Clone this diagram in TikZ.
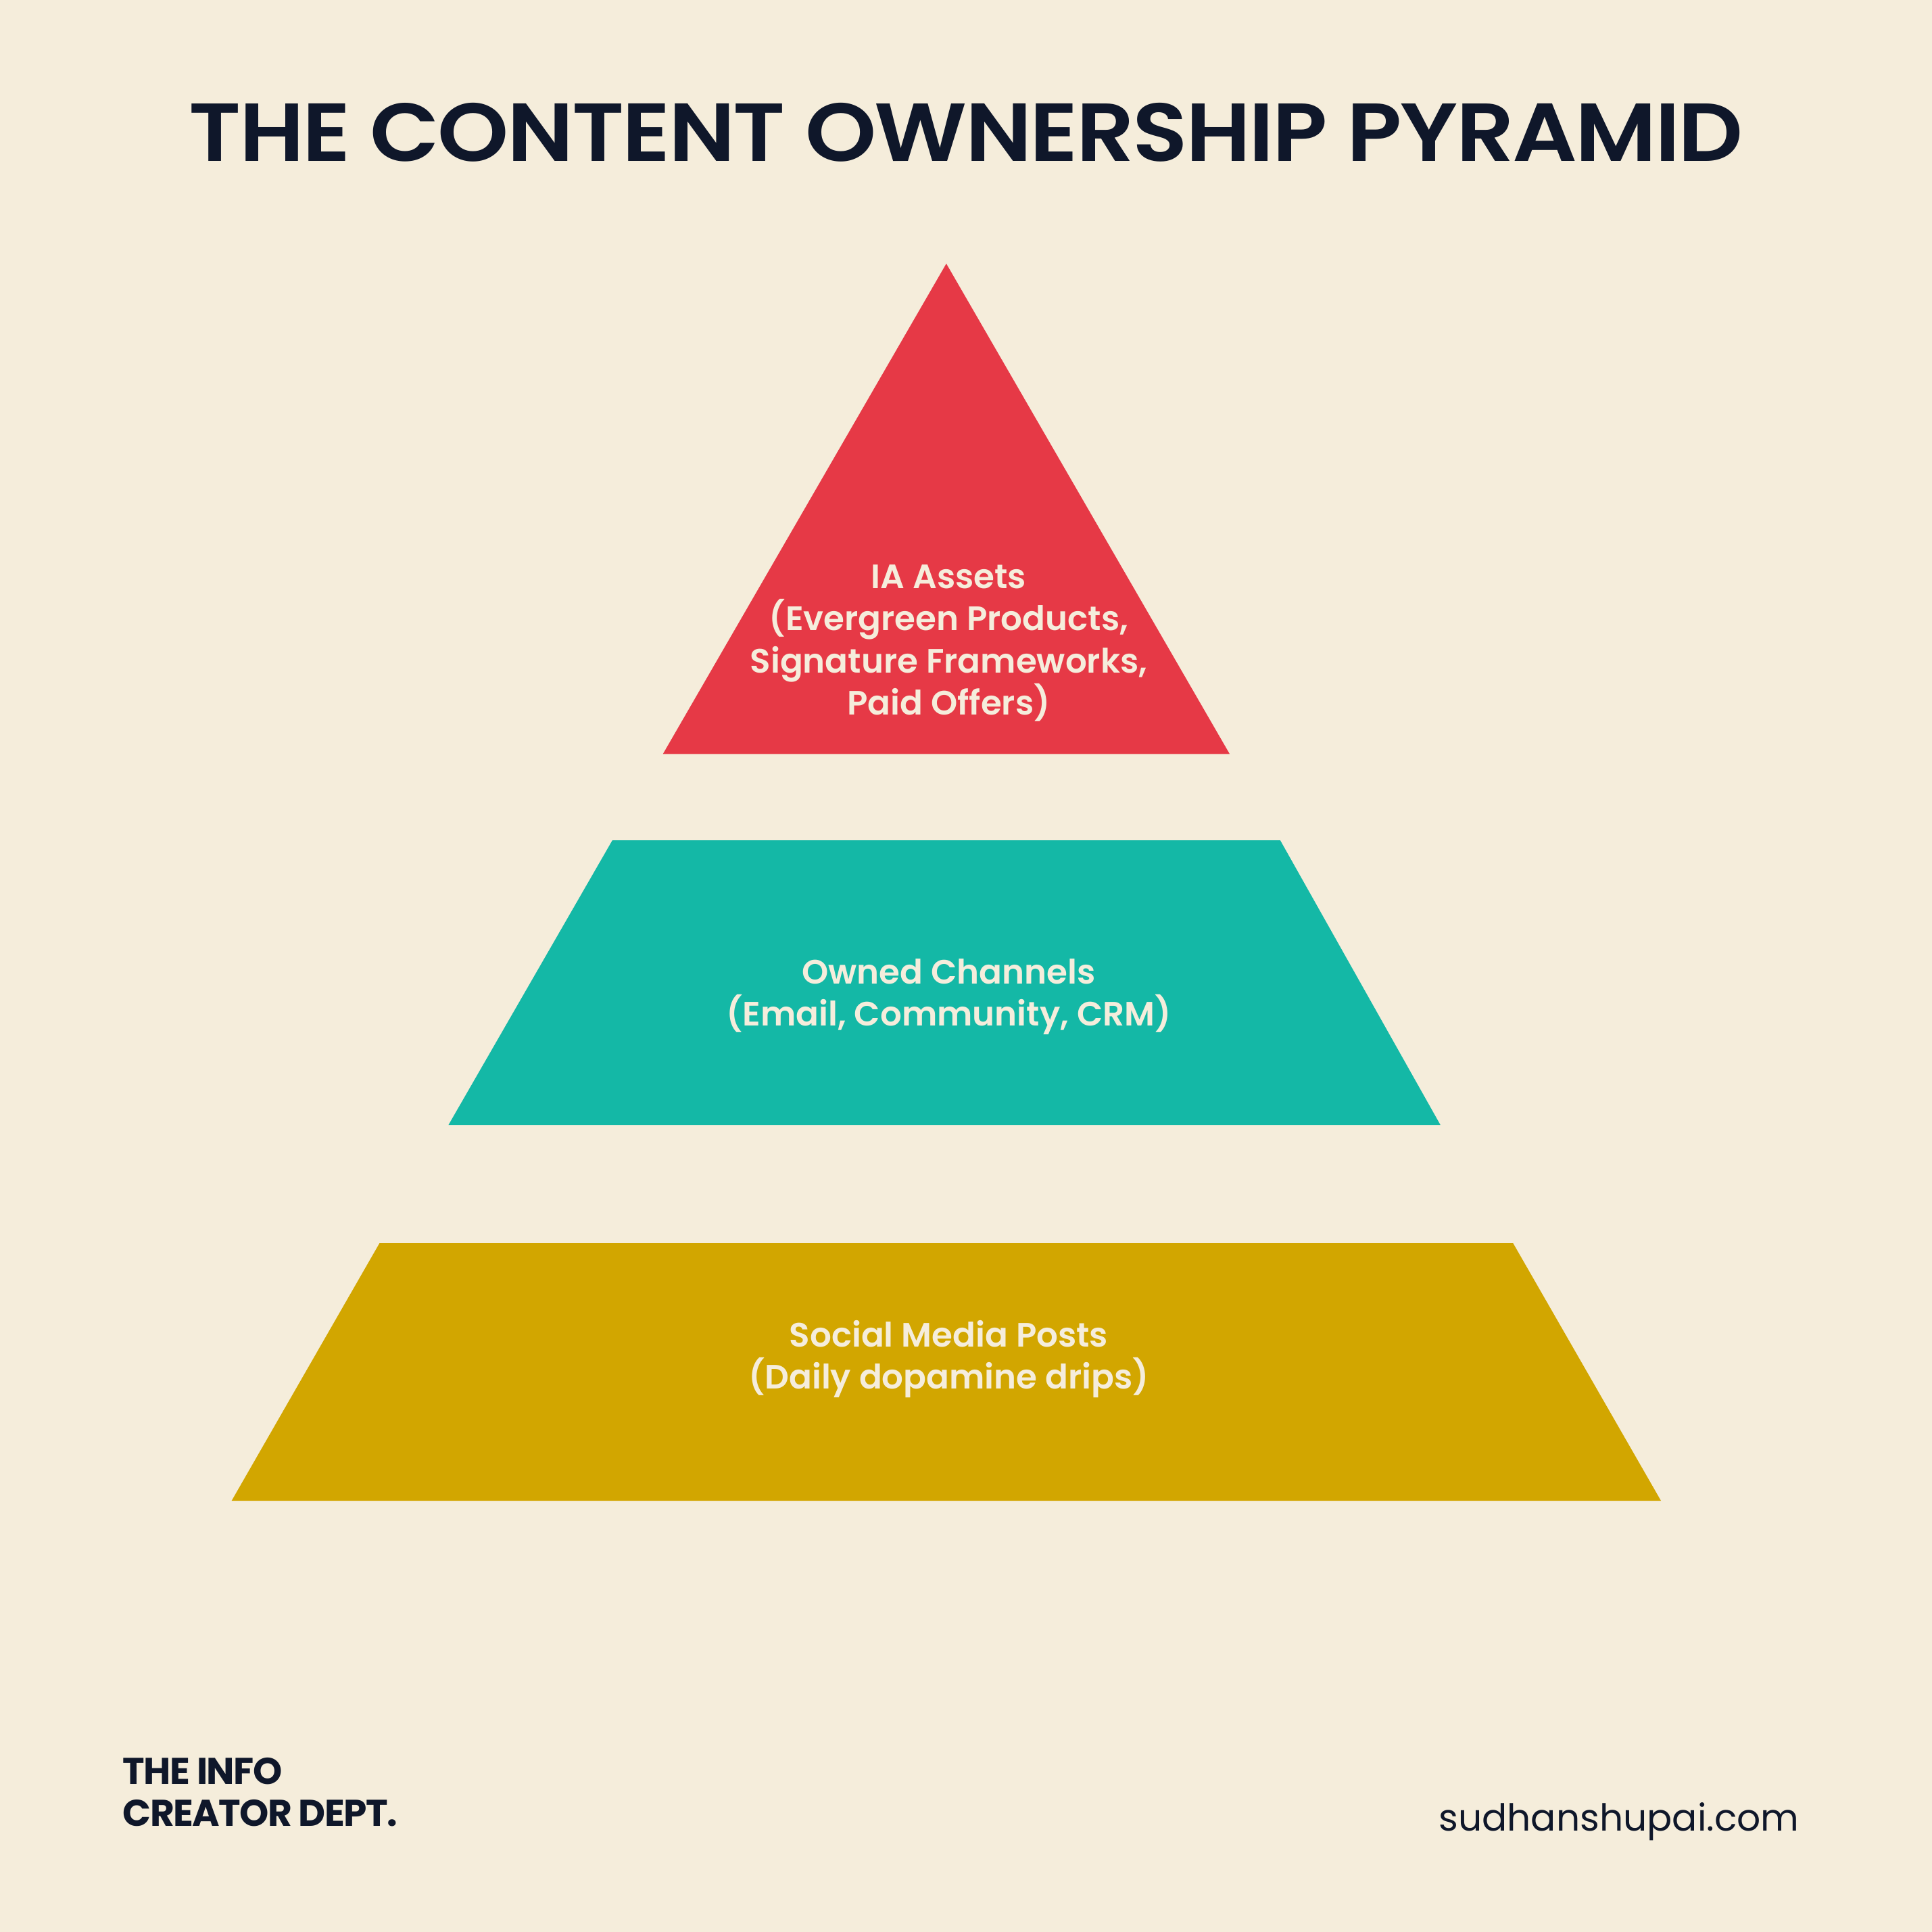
\documentclass[tikz,border=0pt]{standalone}
\usepackage{fontspec}
\setmainfont{Poppins}
\newfontfamily\titlefont{Poppins SemiBold}[LetterSpace=-2]
\newfontfamily\labelfont{Poppins SemiBold}
\usetikzlibrary{positioning}

\definecolor{paper}{HTML}{F5EDDB}
\definecolor{ink}{HTML}{0F172A}
\definecolor{tiertop}{HTML}{E63946}
\definecolor{tiermid}{HTML}{14B8A6}
\definecolor{tierlow}{HTML}{D2A600}
\definecolor{tiertext}{HTML}{F5EDDC}

\tikzset{
  tierlabel/.style={text=tiertext, font=\labelfont\fontsize{7.8}{9.7}\selectfont,
    align=center, inner sep=0pt},
  brand/.style={text=ink, font=\bfseries\fontsize{8.6}{10}\selectfont\addfontfeatures{LetterSpace=-3},
    inner sep=0pt, anchor=base west},
}

\begin{document}
\begin{tikzpicture}
      \fill[paper] (0,0) rectangle (15.68,15.68);
      \useasboundingbox (0,0) rectangle (15.68,15.68);

      %%%%  Title
      \node[text=ink, font=\titlefont\fontsize{19}{22}\selectfont, inner sep=0pt, anchor=base]
        (title) at (7.84,14.37) {\scalebox{1.1}[1]{THE CONTENT OWNERSHIP PYRAMID}};

      %%%%  Tiers (sides at 60 degrees)
      \fill[tiertop] (7.68,13.54) -- (9.98,9.56) -- (5.38,9.56) -- cycle;
      \fill[tiermid] (4.97,8.86) -- (10.39,8.86) -- (11.69,6.55) -- (3.64,6.55) -- cycle;
      \fill[tierlow] (3.08,5.59) -- (12.28,5.59) -- (13.48,3.50) -- (1.88,3.50) -- cycle;

      \node[tierlabel] (assets) at (7.70,10.46)
        {IA Assets\\(Evergreen Products,\\Signature Frameworks,\\Paid Offers)};
      \node[tierlabel] (owned) at (7.70,7.59)
        {Owned Channels\\(Email, Community, CRM)};
      \node[tierlabel] (social) at (7.70,4.65)
        {Social Media Posts\\(Daily dopamine drips)};

      %%%%  Footer
      \node[brand] (dept) at (0.99,1.20) {THE INFO};
      \node[brand] (creator) at ([yshift=-0.34cm]dept.base west) {CREATOR DEPT.};
      \node[text=ink, font=\fontsize{8.6}{10}\selectfont, inner sep=0pt, anchor=base east]
        (site) at (14.61,0.82) {sudhanshupai.com};
    \end{tikzpicture}
\end{document}
